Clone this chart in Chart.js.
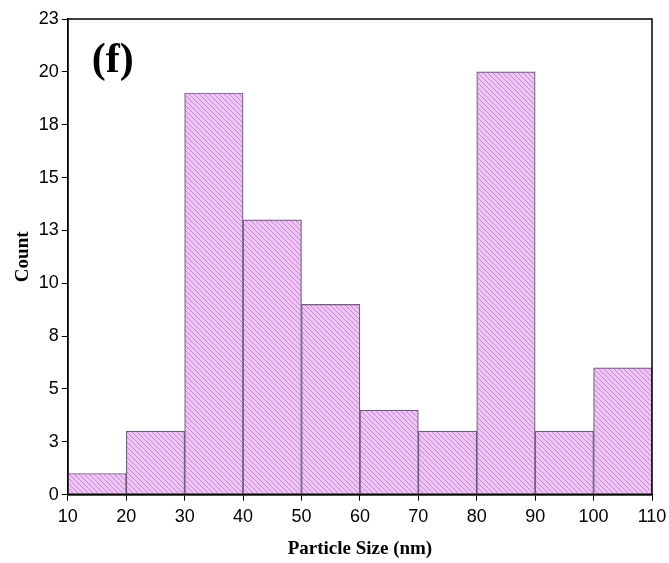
<!DOCTYPE html>
<html>
<head>
<meta charset="utf-8">
<script src="https://cdn.jsdelivr.net/npm/chart.js@4.4.0/dist/chart.umd.min.js"></script>
<style>
  html, body { margin: 0; padding: 0; background: #fff; }
  #wrap { width: 669px; height: 563px; }
</style>
</head>
<body>
<div id="wrap"><canvas id="myChart" width="669" height="563"></canvas></div>
<script>
// bin centres (nm) and counts
let binCenters = [15, 25, 35, 45, 55, 65, 75, 85, 95, 105];
let counts = [1, 3, 19, 13, 9, 4, 3, 20, 3, 6];
let panelLabel = "(f)";

// hatch fill like the original plot
function hatch() {
  let c = document.createElement("canvas");
  c.width = 5;
  c.height = 5;
  let g = c.getContext("2d");
  g.fillStyle = "#f1c3f8";
  g.fillRect(0, 0, 5, 5);
  g.strokeStyle = "#bb8fc8";
  g.lineWidth = 1;
  g.beginPath();
  g.moveTo(-1, -1);
  g.lineTo(6, 6);
  g.moveTo(-1, 4);
  g.lineTo(1, 6);
  g.moveTo(4, -1);
  g.lineTo(6, 1);
  g.stroke();
  return g.createPattern(c, "repeat");
}

let frame = {
  id: "frame",
  afterDraw(chart) {
    let a = chart.chartArea;
    let ctx = chart.ctx;
    ctx.save();
    ctx.strokeStyle = "#000";
    ctx.lineWidth = 1.5;
    ctx.strokeRect(a.left, a.top, a.right - a.left, a.bottom - a.top);
    ctx.font = "bold 42px 'Liberation Serif', 'Times New Roman', serif";
    ctx.fillStyle = "#000";
    ctx.textBaseline = "middle";
    ctx.fillText(panelLabel, a.left + 24, a.top + 42);
    ctx.restore();
  },
};

let tickFont = { family: "'Liberation Sans', Arial, sans-serif", size: 18 };
let titleFont = { family: "'Liberation Serif', 'Times New Roman', serif", size: 19, weight: "bold" };

let ctx = document.getElementById("myChart").getContext("2d");
let myChart = new Chart(ctx, {
  type: "bar",
  data: {
    datasets: [
      {
        label: "Count",
        data: binCenters.map((x, i) => ({ x: x, y: counts[i] })),
        backgroundColor: hatch(),
        borderColor: "#6f5d7a",
        borderWidth: 1.2,
        borderSkipped: false,
        barPercentage: 1,
        categoryPercentage: 1,
      },
    ],
  },
  options: {
    responsive: false,
    animation: false,
    layout: { padding: { top: 19, right: 17, left: 12, bottom: 3 } },
    plugins: {
      legend: { display: false },
      tooltip: { enabled: false },
    },
    scales: {
      x: {
        type: "linear",
        min: 10,
        max: 110,
        offset: false,
        afterFit: (s) => {
          s.paddingLeft = 0;
          s.paddingRight = 0;
        },
        ticks: {
          stepSize: 10,
          color: "#000",
          font: tickFont,
          padding: 6,
          maxRotation: 0,
        },
        grid: {
          offset: false,
          drawOnChartArea: false,
          drawTicks: true,
          tickLength: 6,
          color: "#000",
        },
        border: { color: "#000", width: 1.5 },
        title: {
          display: true,
          text: "Particle Size (nm)",
          color: "#000",
          font: titleFont,
          padding: { top: 3, bottom: 0 },
        },
      },
      y: {
        min: 0,
        max: 22.5,
        afterFit: (s) => {
          s.paddingTop = 0;
          s.paddingBottom = 0;
        },
        ticks: {
          stepSize: 2.5,
          callback: (v) => Math.round(v),
          color: "#000",
          font: tickFont,
          padding: 3,
        },
        grid: {
          drawOnChartArea: false,
          drawTicks: true,
          tickLength: 6,
          color: "#000",
        },
        border: { color: "#000", width: 1.5 },
        title: {
          display: true,
          text: "Count",
          color: "#000",
          font: titleFont,
          padding: { top: 0, bottom: 1 },
        },
      },
    },
  },
  plugins: [frame],
});
</script>
</body>
</html>
